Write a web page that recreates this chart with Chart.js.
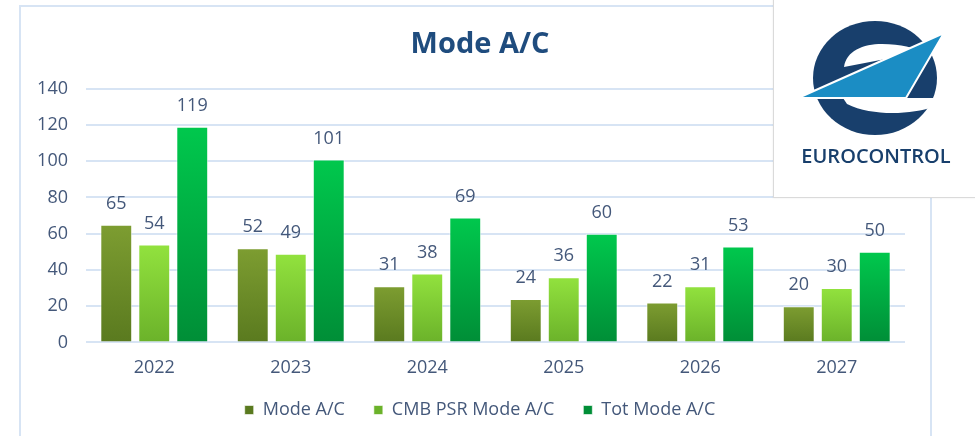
<!DOCTYPE html>
<html>
<head>
<meta charset="utf-8">
<script src="https://cdn.jsdelivr.net/npm/chart.js@4.4.0/dist/chart.umd.min.js"></script>
<style>
  html, body { margin: 0; padding: 0; background: #fff; }
  #wrap { position: relative; width: 975px; height: 436px; overflow: hidden; }
  #frame { position: absolute; left: 19px; top: 5px; width: 909px; height: 470px; border: 2px solid #d7e4f4; }
  #chart { position: absolute; left: 0; top: 0; }
  #logo { position: absolute; left: 773px; top: -2px; width: 201px; height: 198px; background: #fff;
          border: 1px solid #dadada; box-shadow: 0 0 2px rgba(0,0,0,0.08); }
</style>
</head>
<body>
<div id="wrap">
  <div id="frame"></div>
  <canvas id="chart" width="975" height="436"></canvas>
  <div id="logo">
    <svg width="201" height="198" viewBox="773 -2 201 198">
      <ellipse cx="874" cy="77" rx="62" ry="57" fill="#183f6c"/>
      <path d="M 843 66 C 845 50, 862 43, 881 43 C 900 43, 914 47, 921 51 Z" fill="#fff"/>
      <path d="M 842 97 L 945 97 L 945 106 L 932 106 C 912 113, 872 116, 846 103 Z" fill="#fff"/>
      <path d="M 797 97 L 943 32 L 905 97 Z" fill="#1b8dc4" stroke="#fff" stroke-width="2" stroke-linejoin="miter"/>
      <text x="875" y="162" text-anchor="middle" font-family="Open Sans" font-weight="600" font-size="20" fill="#183f6c">EUROCONTROL</text>
    </svg>
  </div>
</div>
<script>
'use strict';
let years = ['2022', '2023', '2024', '2025', '2026', '2027'];
let modeAC = [65, 52, 31, 24, 22, 20];
let cmbPsrModeAC = [54, 49, 38, 36, 31, 30];
let totModeAC = [119, 101, 69, 60, 53, 50];
let yTicks = [0, 20, 40, 60, 80, 100, 120, 140];
let seriesNames = ['Mode A/C', 'CMB PSR Mode A/C', 'Tot Mode A/C'];

let textColor = '#44587a';

function barGradient(top, bottom, flat){
    return function(ctx){
        let chart = ctx.chart;
        let y = chart.scales.y;
        if (ctx.type !== 'data' || !y) return flat;
        let yTop = y.getPixelForValue(ctx.raw);
        let yBot = y.getPixelForValue(0);
        if (!isFinite(yTop) || !isFinite(yBot) || yTop === yBot) return flat;
        let g = chart.ctx.createLinearGradient(0, yTop, 0, yBot);
        g.addColorStop(0, top);
        g.addColorStop(1, bottom);
        return g;
    };
}

// value labels above the bars
let valueLabels = {
    id: 'valueLabels',
    afterDatasetsDraw(chart){
        let c = chart.ctx;
        c.save();
        c.font = '18px "Open Sans"';
        c.fillStyle = textColor;
        c.textAlign = 'center';
        c.textBaseline = 'middle';
        chart.data.datasets.forEach(function(ds, i){
            let meta = chart.getDatasetMeta(i);
            meta.data.forEach(function(bar, j){
                c.fillText(ds.data[j], bar.x, bar.y - 21);
            });
        });
        c.restore();
    }
};

let ctx = document.getElementById('chart').getContext('2d');
let myChart = new Chart(ctx, {
    type: 'bar',
    data: {
        labels: years,
        datasets: [{
            label: seriesNames[0],
            data: modeAC,
            backgroundColor: barGradient('#7d9d31', '#5a7a1f', '#6a8a27'),
            borderColor: 'rgba(255,255,255,0.6)',
            borderWidth: 1
        }, {
            label: seriesNames[1],
            data: cmbPsrModeAC,
            backgroundColor: barGradient('#92e23e', '#6bb22a', '#82cc35'),
            borderColor: 'rgba(255,255,255,0.6)',
            borderWidth: 1
        }, {
            label: seriesNames[2],
            data: totModeAC,
            backgroundColor: barGradient('#00c84d', '#008e37', '#00ad42'),
            borderColor: 'rgba(255,255,255,0.6)',
            borderWidth: 1
        }]
    },
    options: {
        responsive: false,
        animation: false,
        barPercentage: 0.84,
        categoryPercentage: 0.835,
        layout: {
            padding: { left: 20, right: 35, top: 14, bottom: 7 }
        },
        scales: {
            x: {
                grid: { display: false },
                border: { display: false },
                ticks: {
                    color: textColor,
                    font: { family: 'Open Sans', size: 18 },
                    padding: 7
                }
            },
            y: {
                min: 0,
                max: 140,
                afterBuildTicks: function(axis){
                    axis.ticks = yTicks.map(function(v){ return { value: v }; });
                },
                afterFit: function(axis){ axis.width = 66; },
                grid: { color: '#d7e4f4', lineWidth: 2, drawTicks: false },
                border: { display: false },
                ticks: {
                    color: textColor,
                    font: { family: 'Open Sans', size: 18 },
                    padding: 18
                }
            },
            yr: {
                position: 'right',
                display: true,
                grid: { display: false },
                border: { display: false },
                ticks: { display: false },
                afterFit: function(axis){ axis.width = 35; }
            }
        },
        plugins: {
            title: {
                display: true,
                text: 'Mode A/C',
                color: '#1f4c7e',
                font: { family: 'Open Sans', size: 29, weight: 'bold' },
                padding: { top: 13, bottom: 27 }
            },
            legend: {
                position: 'bottom',
                labels: {
                    color: textColor,
                    font: { family: 'Open Sans', size: 18 },
                    boxWidth: 9,
                    boxHeight: 9,
                    padding: 15,
                    generateLabels: function(chart){
                        let items = Chart.defaults.plugins.legend.labels.generateLabels(chart);
                        items.forEach(function(item, i){
                            if (i < items.length - 1) item.text = item.text + '   ';
                        });
                        return items;
                    }
                }
            },
            tooltip: { enabled: false }
        }
    },
    plugins: [valueLabels]
});
</script>
</body>
</html>
